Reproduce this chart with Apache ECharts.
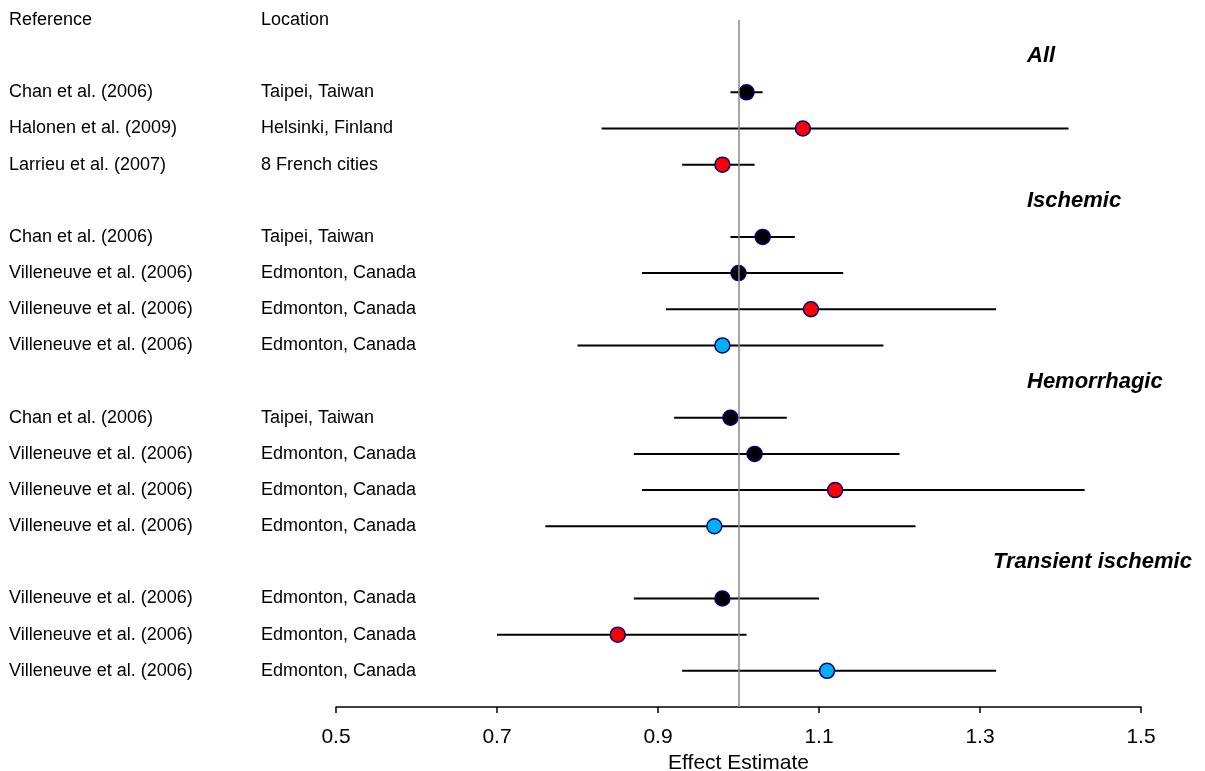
<!DOCTYPE html>
<html><head><meta charset="utf-8">
<script src="https://cdn.jsdelivr.net/npm/echarts@6/dist/echarts.min.js"></script>
<style>html,body{margin:0;padding:0;background:#fff}#c{width:1205px;height:771px}</style>
</head><body><div id="c"></div>
<script>
// ---- data ----
const groupNames = ['All', 'Ischemic', 'Hemorrhagic', 'Transient ischemic'];
const groupSizes = [3, 4, 4, 3];
const references = [
  'Chan et al. (2006)', 'Halonen et al. (2009)', 'Larrieu et al. (2007)',
  'Chan et al. (2006)', 'Villeneuve et al. (2006)', 'Villeneuve et al. (2006)', 'Villeneuve et al. (2006)',
  'Chan et al. (2006)', 'Villeneuve et al. (2006)', 'Villeneuve et al. (2006)', 'Villeneuve et al. (2006)',
  'Villeneuve et al. (2006)', 'Villeneuve et al. (2006)', 'Villeneuve et al. (2006)'
];
const locations = [
  'Taipei, Taiwan', 'Helsinki, Finland', '8 French cities',
  'Taipei, Taiwan', 'Edmonton, Canada', 'Edmonton, Canada', 'Edmonton, Canada',
  'Taipei, Taiwan', 'Edmonton, Canada', 'Edmonton, Canada', 'Edmonton, Canada',
  'Edmonton, Canada', 'Edmonton, Canada', 'Edmonton, Canada'
];
const estimates = [1.01, 1.08, 0.98, 1.03, 1.00, 1.09, 0.98, 0.99, 1.02, 1.12, 0.97, 0.98, 0.85, 1.11];
const lowerCI   = [0.99, 0.83, 0.93, 0.99, 0.88, 0.91, 0.80, 0.92, 0.87, 0.88, 0.76, 0.87, 0.70, 0.93];
const upperCI   = [1.03, 1.41, 1.02, 1.07, 1.13, 1.32, 1.18, 1.06, 1.20, 1.43, 1.22, 1.10, 1.01, 1.32];
const markerType = ['black', 'red', 'red', 'black', 'black', 'red', 'blue', 'black', 'black', 'red', 'blue', 'black', 'red', 'blue'];
const columnHeaders = ['Reference', 'Location'];
const xTickValues = [0.5, 0.7, 0.9, 1.1, 1.3, 1.5];
const nullValue = 1.0;
const xAxisTitle = 'Effect Estimate';

// ---- layout of rows (top row = highest y) ----
const totalRows = 1 + groupNames.length + groupSizes.reduce((a, b) => a + b, 0); // 19
const rowRef = {}, rowLoc = {}, rowGroup = {};
const studyY = [];
let y = totalRows;
rowRef[y] = columnHeaders[0]; rowLoc[y] = columnHeaders[1];
let k = 0;
groupNames.forEach((g, gi) => {
  y -= 1; rowGroup[y] = g;
  for (let j = 0; j < groupSizes[gi]; j++) {
    y -= 1;
    rowRef[y] = references[k]; rowLoc[y] = locations[k];
    studyY.push(y); k++;
  }
});

const fillColors = { black: '#000000', red: '#ff0000', blue: '#00b0f0' };
const FONT = 'Liberation Sans, Arial, sans-serif';

const yBase = {
  type: 'value', min: 0, max: totalRows, interval: 1, position: 'left',
  axisLine: { show: false }, axisTick: { show: false }, splitLine: { show: false }
};

const chart = echarts.init(document.getElementById('c'), null, { renderer: 'canvas' });
chart.setOption({
  animation: false,
  backgroundColor: '#ffffff',
  grid: { left: 336, right: 64, top: 20, bottom: 64, containLabel: false, outerBoundsMode: 'none' },
  xAxis: {
    type: 'value', min: 0.5, max: 1.5, interval: 0.2,
    axisLine: { show: true, lineStyle: { color: '#000', width: 1.5 } },
    axisTick: { show: true, length: 6, lineStyle: { color: '#000', width: 1.5 } },
    splitLine: { show: false },
    axisLabel: { fontSize: 21, color: '#000', fontFamily: FONT, margin: 20,
      formatter: v => xTickValues.some(t => Math.abs(t - v) < 1e-9) ? v.toFixed(1) : '' },
    name: xAxisTitle, nameLocation: 'middle', nameGap: 44,
    nameTextStyle: { fontSize: 21, color: '#000', fontFamily: FONT }
  },
  yAxis: [
    Object.assign({}, yBase, {
      axisLabel: { show: true, showMinLabel: true, showMaxLabel: true, margin: 327, align: 'left',
        fontSize: 18, color: '#000', fontFamily: FONT, formatter: v => rowRef[v] || '' }
    }),
    Object.assign({}, yBase, {
      axisLabel: { show: true, showMinLabel: true, showMaxLabel: true, margin: 75, align: 'left',
        fontSize: 18, color: '#000', fontFamily: FONT, formatter: v => rowLoc[v] || '' }
    }),
    Object.assign({}, yBase, {
      axisLabel: { show: true, showMinLabel: true, showMaxLabel: true, margin: -657, align: 'left',
        color: '#000', fontFamily: FONT,
        formatter: v => {
          const g = rowGroup[v];
          if (!g) return '';
          return g === groupNames[groupNames.length - 1] ? '{t|' + g + '}' : '{h|' + g + '}';
        },
        rich: {
          h: { fontSize: 22, fontWeight: 'bold', fontStyle: 'italic', fontFamily: FONT, color: '#000', padding: [0, 0, 0, 34] },
          t: { fontSize: 22, fontWeight: 'bold', fontStyle: 'italic', fontFamily: FONT, color: '#000' }
        }
      }
    })
  ],
  series: [
    {
      type: 'custom', xAxisIndex: 0, yAxisIndex: 0, z: 2,
      data: studyY.map((yy, i) => [lowerCI[i], upperCI[i], yy]),
      encode: { x: [0, 1], y: 2 },
      renderItem: (params, api) => {
        const a = api.coord([api.value(0), api.value(2)]);
        const b = api.coord([api.value(1), api.value(2)]);
        return { type: 'line', shape: { x1: a[0], y1: a[1], x2: b[0], y2: b[1] },
          style: { stroke: '#000', lineWidth: 2 } };
      },
      markLine: {
        silent: true, symbol: ['none', 'none'], label: { show: false },
        lineStyle: { color: '#888888', width: 1.5, type: 'solid' },
        data: [{ xAxis: nullValue }]
      }
    },
    {
      type: 'scatter', xAxisIndex: 0, yAxisIndex: 0, z: 3,
      symbol: 'circle', symbolSize: 15,
      data: studyY.map((yy, i) => ({
        value: [estimates[i], yy],
        itemStyle: { color: fillColors[markerType[i]], borderColor: '#000080', borderWidth: 1.5, opacity: 1 }
      }))
    }
  ]
});
</script>
</body></html>
